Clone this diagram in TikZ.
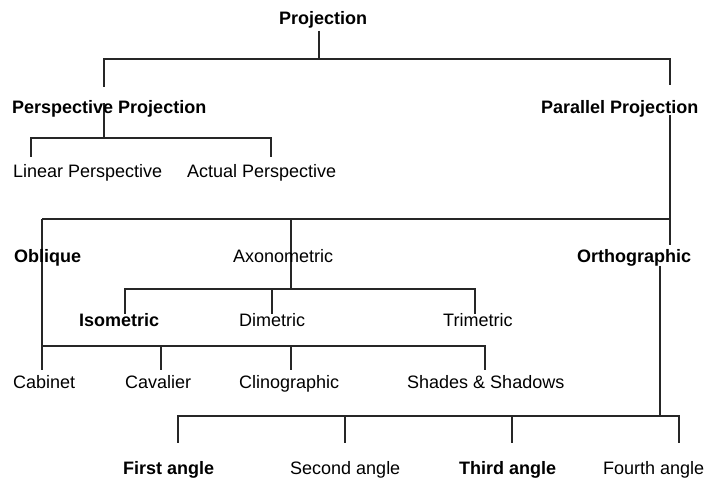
\documentclass[tikz,border=0pt]{standalone}
\usepackage{fontspec}
\setmainfont{Liberation Sans}
\usepackage{tikz}
\usetikzlibrary{positioning}
\tikzset{
  head/.style={
    anchor=base west, inner sep=0pt,
    font=\fontsize{18}{21}\selectfont\bfseries
  },
  leaf/.style={
    anchor=base west, inner sep=0pt,
    font=\fontsize{18}{21}\selectfont
  },
  tree/.style={line width=1.4pt, draw=black!85}
}

\begin{document}
\begin{tikzpicture}[x=1pt, y=-1pt]
  \useasboundingbox[fill=white] (0,0) rectangle (705,478);

  % Junctions (bars and stems)
  \coordinate (projtop)  at (319,31);
  \coordinate (projbar)  at (319,59);
  \coordinate (persptop) at (104,87);
  \coordinate (paratop)  at (670,85);
  \coordinate (perspst)  at (104,103);
  \coordinate (perspbar) at (104,138);
  \coordinate (linear)   at (31,157);
  \coordinate (actual)   at (271,157);
  \coordinate (parast)   at (670,115);
  \coordinate (parabar)  at (670,219);
  \coordinate (paraend)  at (670,245);
  \coordinate (oblbar)   at (42,219);
  \coordinate (axobar)   at (291,219);
  \coordinate (axojn)    at (291,289);
  \coordinate (isotop)   at (125,314);
  \coordinate (dimtop)   at (272,314);
  \coordinate (tritop)   at (475,314);
  \coordinate (cabtop)   at (42,370);
  \coordinate (obljn)    at (42,346);
  \coordinate (cavtop)   at (161,370);
  \coordinate (clitop)   at (291,370);
  \coordinate (shatop)   at (485,370);
  \coordinate (orthst)   at (660,266);
  \coordinate (orthjn)   at (660,416);
  \coordinate (firsttop) at (178,443);
  \coordinate (sectop)   at (345,443);
  \coordinate (thirdtop) at (512,443);
  \coordinate (fourtop)  at (679,443);

  % Wires
  \draw[tree] (projtop) -- (projbar);
  \draw[tree] (persptop) |- (projbar) -| (paratop);

  \draw[tree] (perspst) -- (perspbar);
  \draw[tree] (linear) |- (perspbar) -| (actual);

  \draw[tree] (parast) -- (paraend);
  \draw[tree] (oblbar) -- (parabar);
  \draw[tree] (oblbar) -- (cabtop);
  \draw[tree] (axobar) -- (axojn);
  \draw[tree] (isotop) |- (axojn) -| (tritop);
  \draw[tree] (dimtop) -- (dimtop |- axojn);

  \draw[tree] (obljn) -| (shatop);
  \draw[tree] (cavtop) -- (cavtop |- obljn);
  \draw[tree] (clitop) -- (clitop |- obljn);

  \draw[tree] (orthst) -- (orthjn);
  \draw[tree] (firsttop) |- (orthjn) -| (fourtop);
  \draw[tree] (sectop) -- (sectop |- orthjn);
  \draw[tree] (thirdtop) -- (thirdtop |- orthjn);

  % Labels
  \node[head] (proj)  at (279,25)  {Projection};
  \node[head] (persp) at (12,114)  {Perspective Projection};
  \node[head] (para)  at (541,114) {Parallel Projection};

  \node[leaf] (lin) at (13,178)  {Linear Perspective};
  \node[leaf] (act) at (187,178) {Actual Perspective};

  \node[head] (obl) at (14,263)  {Oblique};
  \node[leaf] (axo) at (233,263) {Axonometric};
  \node[head] (ort) at (577,263) {Orthographic};

  \node[head] (iso) at (79,327)  {Isometric};
  \node[leaf] (dim) at (239,327) {Dimetric};
  \node[leaf] (tri) at (443,327) {Trimetric};

  \node[leaf] (cab) at (13,389)  {Cabinet};
  \node[leaf] (cav) at (125,389) {Cavalier};
  \node[leaf] (cli) at (239,389) {Clinographic};
  \node[leaf] (sha) at (407,389) {Shades \& Shadows};

  \node[head] (first)  at (123,475) {First angle};
  \node[leaf] (second) at (290,475) {Second angle};
  \node[head] (third)  at (459,475) {Third angle};
  \node[leaf] (fourth) at (603,475) {Fourth angle};
\end{tikzpicture}
\end{document}
